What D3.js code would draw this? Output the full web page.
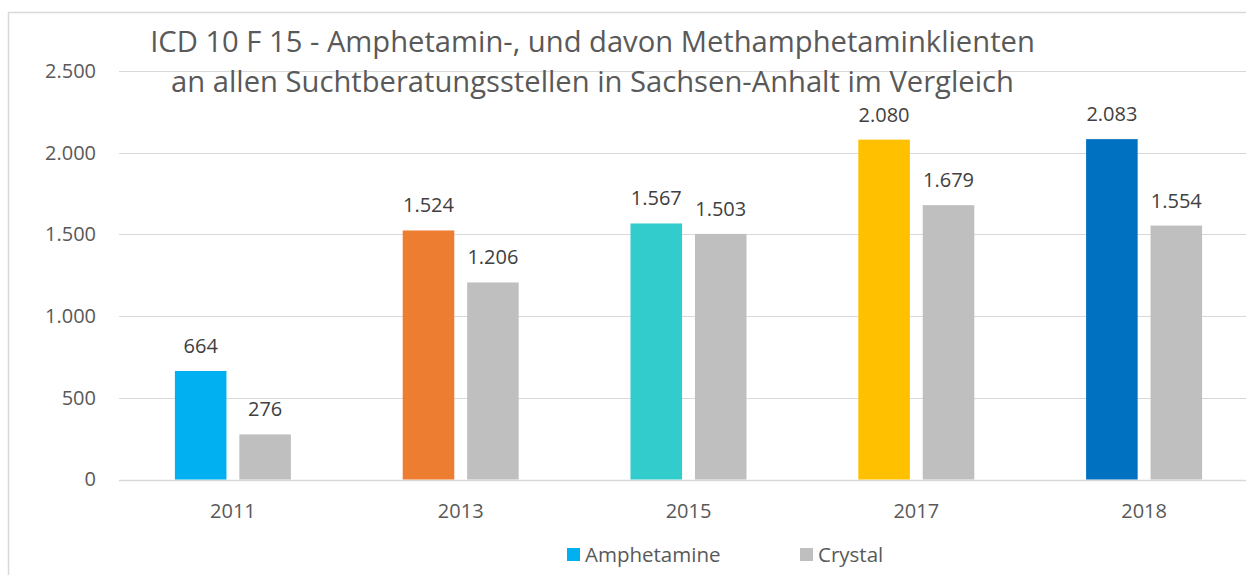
<!DOCTYPE html>
<html><head><meta charset="utf-8">
<script src="https://cdn.jsdelivr.net/npm/d3@7"></script>
<style>body{margin:0;background:#fff}svg{display:block}text{font-family:"Open Sans",sans-serif}</style>
</head><body>
<svg id="c" width="1246" height="575"></svg>
<script>
const years = ["2011","2013","2015","2017","2018"];
const amphetamine = [664,1524,1567,2080,2083];
const crystal = [276,1206,1503,1679,1554];
const amphColors = ["#00B0F0","#ED7D31","#33CCCC","#FFC000","#0070C0"];
const crystalColor = "#BFBFBF";
const yTicks = [0,500,1000,1500,2000,2500];
const titleLines = ["ICD 10 F 15 - Amphetamin-, und davon Methamphetaminklienten","an allen Suchtberatungsstellen in Sachsen-Anhalt im Vergleich"];
const seriesNames = ["Amphetamine","Crystal"];

const fmt = v => d3.format(",")(v).replace(/,/g,".");
const svg = d3.select("#c");
svg.append("rect").attr("x",8.5).attr("y",12.5).attr("width",1300).attr("height",700)
  .attr("fill","#fff").attr("stroke","#D9D9D9").attr("stroke-width",1.5);

const x = d3.scaleBand().domain(years).range([119,1258]);
const y = d3.scaleLinear().domain([0,2500]).range([479.5,71]);
const inner = d3.scaleBand().domain(["a","c"]).range([x.bandwidth()/2-58, x.bandwidth()/2+58]).paddingInner(0.2);

// grid
svg.append("g").selectAll("line").data(yTicks).join("line")
  .attr("x1",119).attr("x2",1258).attr("y1",d=>Math.round(y(d))+0.5).attr("y2",d=>Math.round(y(d))+0.5)
  .attr("stroke","#D9D9D9").attr("stroke-width",d=>d===0?1.5:1);

// y axis
const ya = svg.append("g").attr("transform","translate(96,0)").call(d3.axisLeft(y).tickValues(yTicks).tickFormat(fmt).tickSize(0).tickPadding(0));
ya.select(".domain").remove();
ya.selectAll("text").attr("font-size",20).attr("fill","#595959").style("font-family","'Open Sans',sans-serif");

// x axis
const xa = svg.append("g").attr("transform","translate(0,500)").call(d3.axisBottom(x).tickSize(0).tickPadding(0));
xa.select(".domain").remove();
xa.selectAll("text").attr("font-size",20).attr("fill","#595959").attr("y",18).attr("dy",0).style("font-family","'Open Sans',sans-serif");

// bars
const g = svg.append("g");
years.forEach((yr,i)=>{
  const bx = x(yr);
  [["a",amphetamine[i],amphColors[i]],["c",crystal[i],crystalColor]].forEach(([k,v,col])=>{
    const x0 = bx+inner(k);
    g.append("rect").attr("x",x0).attr("y",y(v)).attr("width",inner.bandwidth()).attr("height",y(0)-y(v)).attr("fill",col);
    g.append("text").attr("x",x0+inner.bandwidth()/2).attr("y",y(v)-18).attr("text-anchor","middle")
      .attr("font-size",20).attr("fill","#404040").text(fmt(v));
  });
});

// title
const tt = svg.append("g");
titleLines.forEach((t,i)=>{
  tt.append("text").attr("x",592.5).attr("y",52+i*40).attr("text-anchor","middle")
    .attr("font-size",25).attr("fill","#595959").text(t);
});
const t0 = tt.select("text").node();
const w = t0.getComputedTextLength();
const fs = 25*885/w;
tt.selectAll("text").attr("font-size",fs);

// legend
const leg = svg.append("g");
[[567,seriesNames[0],amphColors[0]],[800,seriesNames[1],crystalColor]].forEach(([lx,name,col])=>{
  leg.append("rect").attr("x",lx).attr("y",548).attr("width",13).attr("height",13).attr("fill",col);
  leg.append("text").attr("x",lx+18).attr("y",562).attr("font-size",20.5).attr("fill","#595959").text(name);
});
</script>
</body></html>
